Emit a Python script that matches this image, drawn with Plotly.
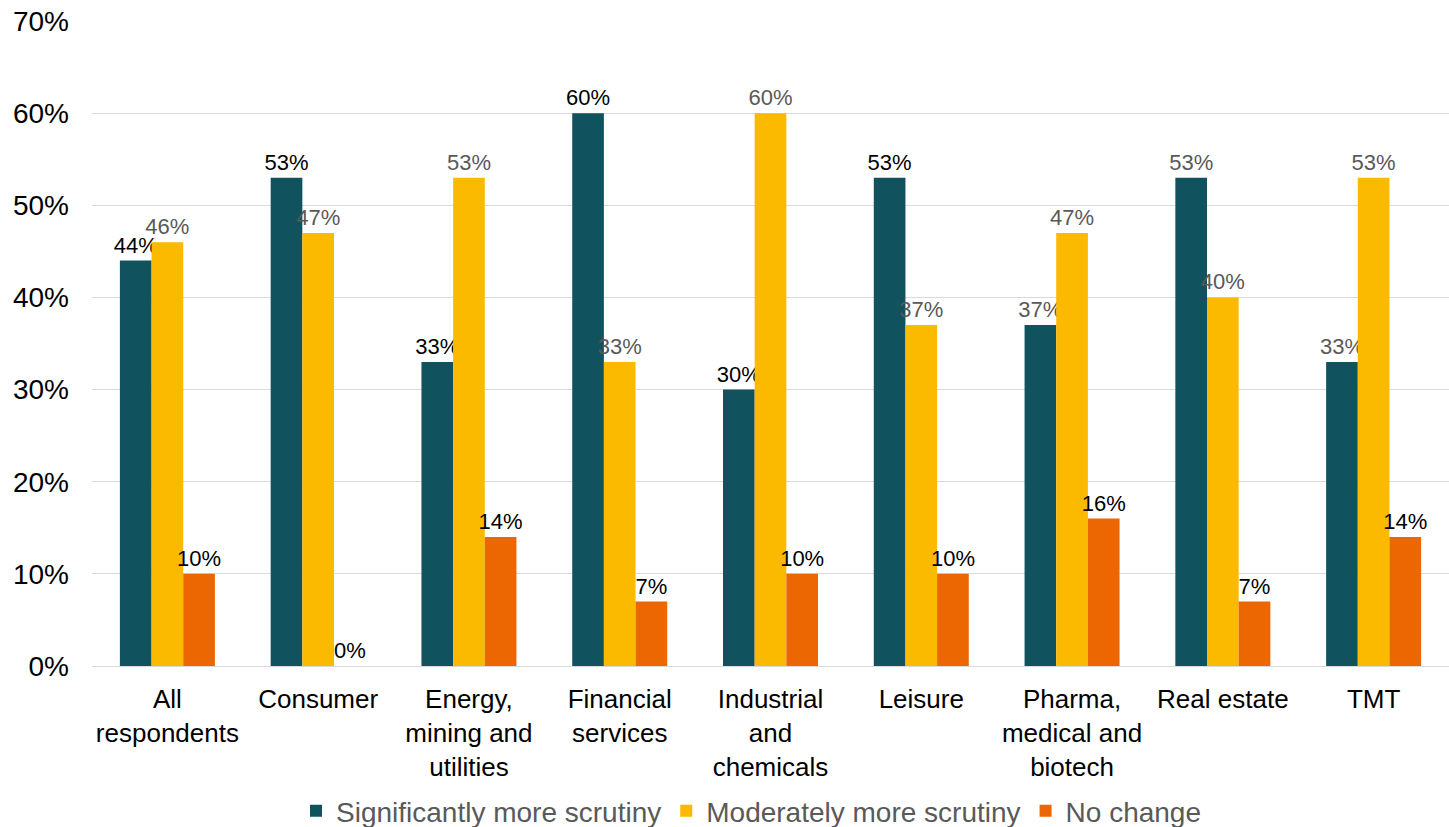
import plotly.graph_objects as go

categories = ["All<br>respondents", "Consumer", "Energy,<br>mining and<br>utilities",
              "Financial<br>services", "Industrial<br>and<br>chemicals", "Leisure",
              "Pharma,<br>medical and<br>biotech", "Real estate", "TMT"]
significantly = [44, 53, 33, 60, 30, 53, 37, 53, 33]
moderately = [46, 47, 53, 33, 60, 37, 47, 40, 53]
no_change = [10, 0, 14, 7, 10, 10, 16, 7, 14]
series_names = ["Significantly more scrutiny", "Moderately more scrutiny", "No change"]
tick_vals = [0, 10, 20, 30, 40, 50, 60, 70]
tick_text = [f"{v}%" for v in tick_vals]

colors = ["#10535F", "#FBB900", "#EC6602"]
BLACK, GRAY = "#000000", "#595959"
label_colors = [
    [BLACK] * 6 + [GRAY] * 3,
    [GRAY] * 9,
    [BLACK] * 9,
]
FONT = "Liberation Sans, Arial, sans-serif"

fig = go.Figure()
for name, vals, col, lc in zip(series_names, [significantly, moderately, no_change], colors, label_colors):
    fig.add_trace(go.Bar(
        x=categories, y=[v / 100 for v in vals], name=name,
        marker=dict(color=col, line=dict(width=0)),
        text=[f"{v}%" for v in vals], textposition="outside",
        textfont=dict(size=22, color=lc, family=FONT),
        constraintext="none", cliponaxis=False,
    ))

fig.update_layout(
    barmode="group", bargap=0.37, bargroupgap=0,
    width=1449, height=827,
    margin=dict(l=92, r=0, t=21, b=161, autoexpand=False),
    plot_bgcolor="white", paper_bgcolor="white",
    font=dict(family=FONT, size=26, color="#000000"),
    showlegend=True,
    legend=dict(orientation="h", x=0.486, xanchor="center",
                y=-0.225, yanchor="middle",
                bgcolor="rgba(0,0,0,0)",
                font=dict(size=28, color="#595959"), traceorder="normal"),
)
fig.update_yaxes(range=[0, 0.7], tickvals=[v / 100 for v in tick_vals], ticktext=tick_text,
                 showgrid=True, gridcolor="#D9D9D9", gridwidth=1, zeroline=True,
                 zerolinecolor="#D9D9D9", zerolinewidth=1, showline=False,
                 tickfont=dict(size=28, color="#000000"), ticklabelstandoff=22,
                 automargin=False)
fig.update_xaxes(showline=False, showgrid=False, ticks="", automargin=False,
                 tickfont=dict(size=26, color="#000000"), ticklabelstandoff=15)

fig.write_html("out.html")
